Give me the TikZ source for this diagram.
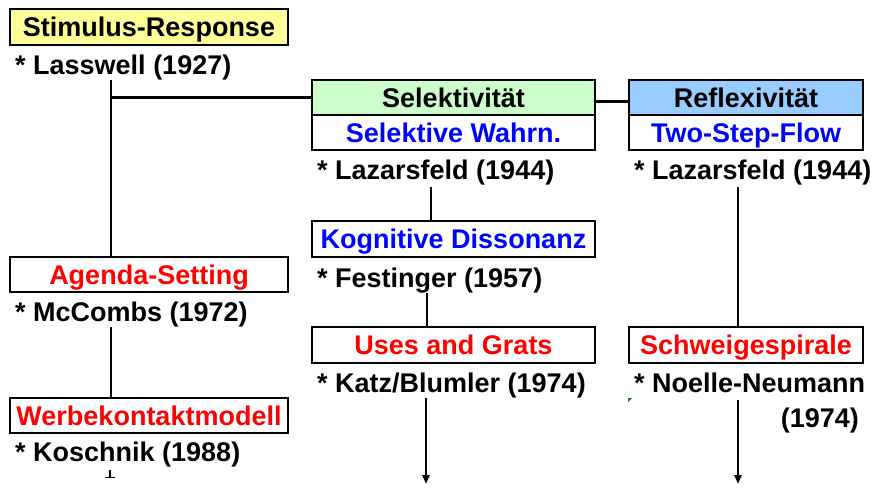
\documentclass[tikz,border=0pt]{standalone}
\usepackage{fontspec}
\setmainfont{Liberation Sans}
\usetikzlibrary{arrows.meta}
\definecolor{boxyellow}{HTML}{FFFF99}
\definecolor{boxgreen}{HTML}{CCFFCC}
\definecolor{boxblue}{HTML}{99CCFF}
\definecolor{txtblue}{HTML}{0000FF}
\definecolor{txtred}{HTML}{FF0000}
\definecolor{tickgreen}{HTML}{008000}
\tikzset{
  lbl/.style={font=\fontsize{27}{30}\selectfont\bfseries, text depth=0pt},
  box/.style={lbl, draw=black, line width=1.5pt, rectangle, inner sep=0pt, minimum height=35pt},
  widebox/.style={box, minimum width=278pt},
  midbox/.style={box, minimum width=283pt},
  rightbox/.style={box, minimum width=234pt},
  caption/.style={lbl, anchor=west, inner sep=0pt, text=black},
  conn/.style={draw=black, line width=2.3pt},
  arr/.style={conn, -{Triangle[length=9pt,width=7pt]}}
}
\begin{document}
\begin{tikzpicture}[x=1pt,y=-1pt]
\useasboundingbox (0,0) rectangle (877,487);
% left column
\node[widebox, fill=boxyellow, minimum height=36pt] (sr) at (149,27) {Stimulus-Response};
\node[caption] (lass) at (15,65) {* Lasswell (1927)};
\node[widebox, text=txtred] (agenda) at (149,274.5) {Agenda-Setting};
\node[caption] (mcc) at (15,312) {* McCombs (1972)};
\node[widebox, text=txtred] (werbe) at (149,415.5) {Werbekontaktmodell};
\node[caption] (kosch) at (15,452) {* Koschnik (1988)};
% middle column
\node[midbox, fill=boxgreen] (sel) at (453.5,97.5) {Selektivität};
\node[midbox, text=txtblue] (selw) at (453.5,132.5) {Selektive Wahrn.};
\node[caption] (laz1) at (317,170) {* Lazarsfeld (1944)};
\node[midbox, text=txtblue, minimum height=36pt] (kog) at (453.5,239) {Kognitive Dissonanz};
\node[caption] (fest) at (317,278) {* Festinger (1957)};
\node[midbox, text=txtred, minimum height=36pt] (uses) at (453.5,345) {Uses and Grats};
\node[caption] (katz) at (317,383) {* Katz/Blumler (1974)};
% right column
\node[rightbox, fill=boxblue] (refl) at (746,97.5) {Reflexivität};
\node[rightbox, text=txtblue] (tsf) at (746,132.5) {Two-Step-Flow};
\node[caption] (laz2) at (634,170) {* Lazarsfeld (1944)};
\node[rightbox, text=txtred, minimum height=36pt] (schw) at (746,345) {Schweigespirale};
\node[caption] (noelle) at (634,383) {* Noelle-Neumann};
\node[lbl, anchor=east, inner sep=0pt] (year) at (859,418) {(1974)};
% connector points
\coordinate (ltop) at (111,80);
\coordinate (lmid) at (111,327);
\coordinate (lstub) at (110,470);
\coordinate (m1) at (431,187);
\coordinate (m2) at (427,293);
\coordinate (m3) at (426,398);
\coordinate (mend) at (426,484);
\coordinate (r1) at (738,187);
\coordinate (r2) at (738,400);
\coordinate (rend) at (738,484);
% connectors
\draw[conn] (ltop) -- (ltop |- agenda.north);
\draw[conn] (sel.west) -- (sel.west -| ltop);
\draw[conn] ([yshift=-4pt]sel.east) -- ([yshift=-4pt]refl.west);
\draw[conn] (lmid) -- (lmid |- werbe.north);
\draw[conn] (lstub) -- ++(0,7) coordinate (lstubend);
\draw[line width=1pt] ([xshift=-5pt]lstubend) -- ([xshift=5pt]lstubend);
\draw[conn] (m1) -- (m1 |- kog.north);
\draw[conn] (m2) -- (m2 |- uses.north);
\draw[arr] (m3) -- (mend);
\draw[conn] (r1) -- (r1 |- schw.north);
\draw[arr] (r2) -- (rend);
% small green mark
\fill[tickgreen] (628,398) -- (632,398) -- (628,402) -- cycle;
\end{tikzpicture}
\end{document}
